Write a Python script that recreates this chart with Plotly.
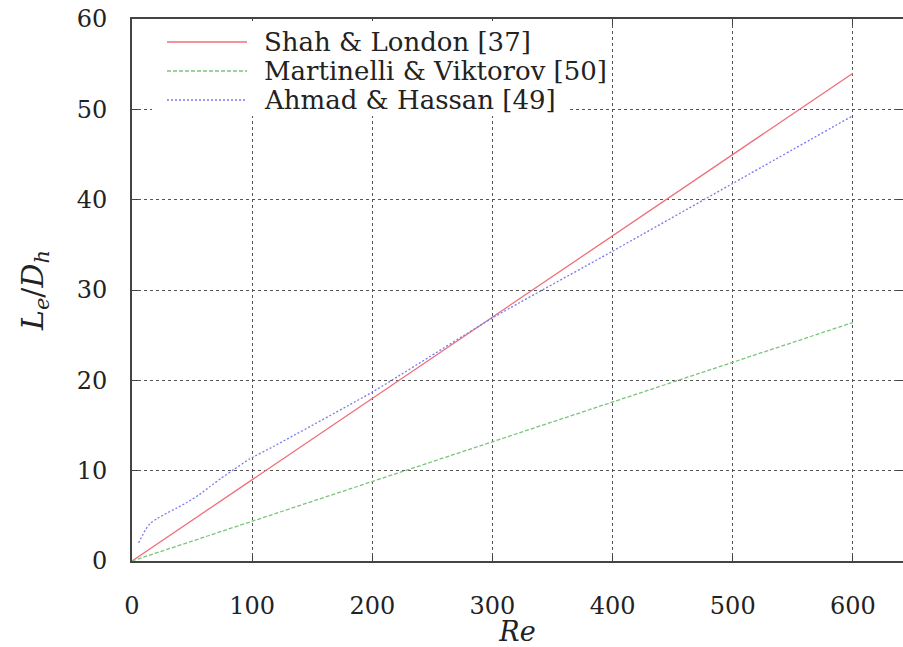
import plotly.graph_objects as go

# Entrance length vs Reynolds number for three correlations
re_lin = [0, 100, 200, 300, 400, 500, 600]
shah_london = [0.0, 9.0, 18.0, 27.0, 36.0, 45.0, 54.0]
martinelli_viktorov = [0.0, 4.4, 8.8, 13.2, 17.6, 22.0, 26.4]

re_ah = [5.5, 11, 15, 21, 29, 37, 46, 56, 65, 74, 85, 98, 118, 200, 300, 400, 500, 600]
ahmad_hassan = [2.0, 3.4, 4.15, 4.7, 5.3, 5.85, 6.5, 7.35, 8.25, 9.15, 10.15, 11.3, 12.7,
                18.7, 26.9, 34.3, 41.8, 49.3]

x_ticks = [0, 100, 200, 300, 400, 500, 600]
y_ticks = [0, 10, 20, 30, 40, 50, 60]

names = ["Shah &amp; London [37]", "Martinelli &amp; Viktorov [50]", "Ahmad &amp; Hassan [49]"]
colors = ["#ef6f7a", "#7cc47c", "#7a7aee"]
dashes = ["solid", "4px,2px", "2px,2px"]

FONT = "DejaVu Serif, Liberation Serif, serif"
W, H = 903, 647
ML, MR, MT, MB = 132, 0, 19, 86

fig = go.Figure()
fig.add_trace(go.Scatter(x=re_lin, y=shah_london, mode="lines",
                         line=dict(color=colors[0], width=1.3, dash=dashes[0]),
                         showlegend=False))
fig.add_trace(go.Scatter(x=re_lin, y=martinelli_viktorov, mode="lines",
                         line=dict(color=colors[1], width=1.3, dash=dashes[1]),
                         showlegend=False))
fig.add_trace(go.Scatter(x=re_ah, y=ahmad_hassan, mode="lines",
                         line=dict(color=colors[2], width=1.3, dash=dashes[2],
                                   shape="spline", smoothing=0.5),
                         showlegend=False))

# Hand-built key: white box over the grid, sample lines and labels
pw, ph = W - ML - MR, H - MT - MB
def px_x(p):
    return (p - ML) / pw
def px_y(p):
    return (H - MB - p) / ph

shapes = [dict(type="rect", xref="paper", yref="paper", layer="above",
               x0=px_x(152), x1=px_x(570), y0=px_y(116), y1=px_y(21),
               fillcolor="white", line=dict(width=0))]
annotations = []
rows = [42, 71, 100]
for name, col, dsh, ry in zip(names, colors, dashes, rows):
    shapes.append(dict(type="line", xref="paper", yref="paper", layer="above",
                       x0=px_x(167), x1=px_x(247), y0=px_y(ry), y1=px_y(ry),
                       line=dict(color=col, width=1.3, dash=dsh)))
    annotations.append(dict(xref="paper", yref="paper", x=px_x(262), y=px_y(ry),
                            xanchor="left", yanchor="middle", showarrow=False,
                            text=name, font=dict(family=FONT, size=26, color="#222")))

axis_common = dict(
    showline=True, linecolor="#444", linewidth=2, mirror="ticks",
    ticks="inside", ticklen=6, tickcolor="#444",
    showgrid=True, gridcolor="#555", griddash="dot", gridwidth=1,
    zeroline=False, automargin=False,
    tickfont=dict(family=FONT, size=24, color="#222"),
)

fig.update_layout(
    width=W, height=H,
    margin=dict(l=ML, r=MR, t=MT, b=MB),
    paper_bgcolor="white", plot_bgcolor="white",
    font=dict(family=FONT, size=24, color="#222"),
    shapes=shapes, annotations=annotations,
    xaxis=dict(range=[0, 641.7], tickvals=x_ticks, ticklabelstandoff=22,
               title=dict(text="<i>Re</i>", font=dict(family=FONT, size=27, color="#222"),
                          standoff=20),
               **axis_common),
    yaxis=dict(range=[0, 60], tickvals=y_ticks, ticklabelstandoff=18,
               title=dict(text="<i>L</i><sub><i>e</i></sub>/<i>D</i><sub><i>h</i></sub>",
                          font=dict(family=FONT, size=30, color="#222"), standoff=24),
               **axis_common),
)

fig.write_html("out.html")
